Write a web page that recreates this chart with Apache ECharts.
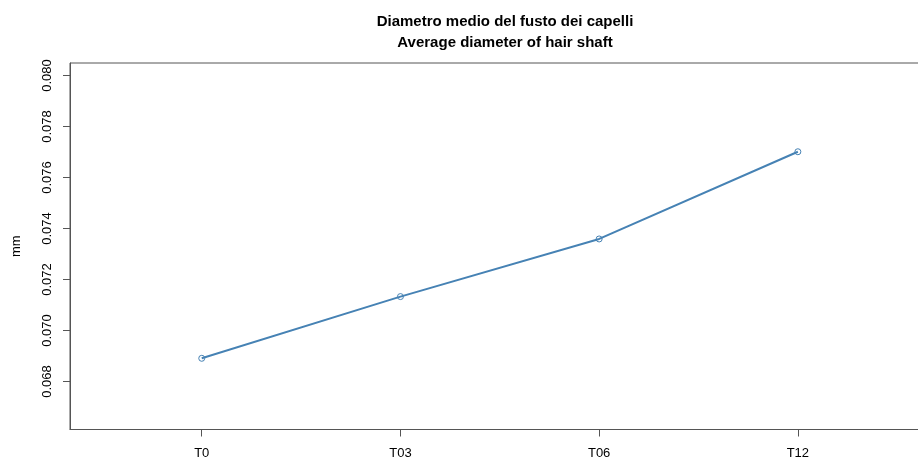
<!DOCTYPE html>
<html>
<head>
<meta charset="utf-8">
<script src="https://cdn.jsdelivr.net/npm/echarts@6/dist/echarts.min.js"></script>
<style>
  html, body { margin: 0; padding: 0; background: #fff; overflow: hidden; }
  /* the drawing surface is a little wider than the window, so the plot box runs off the right edge */
  #chart { width: 930px; height: 459px; }
</style>
</head>
<body>
<div id="chart"></div>
<script>
// Time points and mean hair-shaft diameter (mm)
const timepoints = ['T0', 'T03', 'T06', 'T12'];
const diameterMm = [0.06891, 0.07133, 0.07359, 0.07701];
const yTicks = [0.068, 0.070, 0.072, 0.074, 0.076, 0.078, 0.080];

const FONT = '"Liberation Sans", Arial, sans-serif';
const AXIS_COLOR = '#555';
const LINE_COLOR = '#4682B4';

const chart = echarts.init(document.getElementById('chart'), null, { renderer: 'canvas' });

chart.setOption({
  animation: false,
  backgroundColor: '#ffffff',
  title: {
    text: 'Diametro medio del fusto dei capelli\nAverage diameter of hair shaft',
    left: 500,
    top: 6,
    textAlign: 'center',
    textStyle: {
      fontFamily: FONT,
      fontWeight: 'bold',
      fontSize: 15,
      lineHeight: 21,
      color: '#000'
    }
  },
  grid: {
    left: 70,
    right: 0,
    top: 63,
    bottom: 29.5,
    show: true,
    borderColor: AXIS_COLOR,
    borderWidth: 1,
    containLabel: false,
    outerBoundsMode: 'none'
  },
  xAxis: {
    type: 'value',
    min: -0.663,
    max: 3.665,
    axisLine: { show: true, onZero: false, lineStyle: { color: AXIS_COLOR, width: 1 } },
    axisTick: {
      show: true,
      customValues: timepoints.map((_, i) => i),
      length: 7,
      lineStyle: { color: AXIS_COLOR }
    },
    axisLabel: {
      customValues: timepoints.map((_, i) => i),
      formatter: v => timepoints[Math.round(v)],
      margin: 17,
      fontFamily: FONT,
      fontSize: 13,
      color: '#000'
    },
    splitLine: { show: false }
  },
  yAxis: {
    type: 'value',
    name: 'mm',
    nameLocation: 'middle',
    nameGap: 47,
    nameTextStyle: { fontFamily: FONT, fontSize: 13, color: '#000' },
    min: 0.066118,
    max: 0.08049,
    axisLine: { show: true, onZero: false, lineStyle: { color: AXIS_COLOR, width: 1 } },
    axisTick: {
      show: true,
      customValues: yTicks,
      length: 7,
      lineStyle: { color: AXIS_COLOR }
    },
    axisLabel: {
      customValues: yTicks,
      rotate: 90,
      margin: 16,
      formatter: v => v.toFixed(3),
      fontFamily: FONT,
      fontSize: 13,
      color: '#000'
    },
    splitLine: { show: false }
  },
  series: [{
    type: 'line',
    data: diameterMm.map((v, i) => [i, v]),
    lineStyle: { color: LINE_COLOR, width: 2 },
    itemStyle: { color: 'rgba(0,0,0,0)', borderColor: LINE_COLOR, borderWidth: 1 },
    symbol: 'circle',
    symbolSize: 6,
    showSymbol: true
  }]
});
</script>
</body>
</html>
